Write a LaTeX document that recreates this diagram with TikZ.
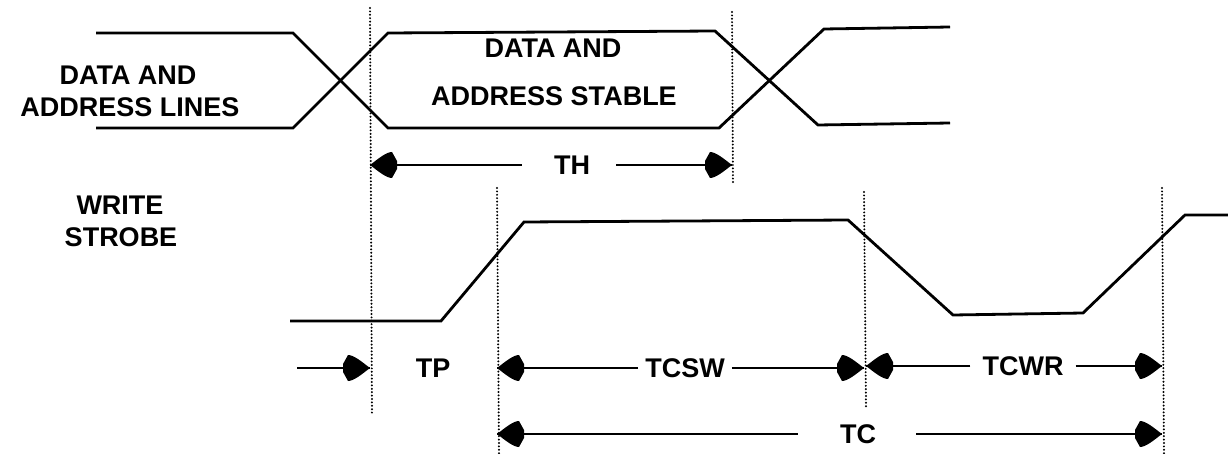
\documentclass[tikz,border=0pt]{standalone}
\usepackage{fontspec}
\setmainfont{Liberation Sans}
\tikzset{
  sig/.style={line width=2.8pt, line join=miter},
  guide/.style={line width=2.2pt, line cap=round, dash pattern=on 0pt off 3.4pt},
  dim/.style={line width=2.6pt},
  lbl/.style={font=\fontsize{27}{32}\selectfont\bfseries, inner sep=0pt, align=center},
  headR/.pic={\fill (0,0) .. controls (-8,-6) and (-16,-13) .. (-22,-13)
      -- (-27,-4) -- (-27,4) -- (-22,13) .. controls (-16,13) and (-8,6) .. (0,0) -- cycle;},
  headL/.pic={\fill (0,0) .. controls (8,-6) and (16,-13) .. (22,-13)
      -- (27,-4) -- (27,4) -- (22,13) .. controls (16,13) and (8,6) .. (0,0) -- cycle;},
}
\begin{document}
\begin{tikzpicture}[x=1pt,y=-1pt]
\useasboundingbox[fill=white] (0,0) rectangle (1228,454);

% guide (dotted) lines
\coordinate (g1t) at (370,8);   \coordinate (g1b) at (372,415);
\coordinate (g2t) at (732,12);  \coordinate (g2b) at (733,185);
\coordinate (g3t) at (497,188); \coordinate (g3b) at (499,454);
\coordinate (g4t) at (864,192); \coordinate (g4b) at (866,407);
\coordinate (g5t) at (1162,188);\coordinate (g5b) at (1164,454);
\draw[guide] (g1t) -- (g1b);
\draw[guide] (g2t) -- (g2b);
\draw[guide] (g3t) -- (g3b);
\draw[guide] (g4t) -- (g4b);
\draw[guide] (g5t) -- (g5b);

% data and address lines
\draw[sig] (96,33) -- (293,33) -- (388,128) -- (719,128) -- (824,29) -- (950,27);
\draw[sig] (96,128) -- (293,128) -- (388,33) -- (715,31) -- (818,125) -- (950,123);

% write strobe
\draw[sig] (290,321) -- (441,321) -- (524,222) -- (848,220) -- (953,315)
  -- (1083,313) -- (1185,215) -- (1228,215);

% labels
\node[lbl] (dal1) at (128,75) {DATA AND};
\node[lbl] (dal2) at (130,107) {ADDRESS LINES};
\node[lbl] (das1) at (553,48) {DATA AND};
\node[lbl] (das2) at (554,96) {ADDRESS STABLE};
\node[lbl] (ws1) at (120,205) {WRITE};
\node[lbl] (ws2) at (121,237) {STROBE};

\node[lbl] (th) at (572,165) {TH};
\node[lbl] (tp) at (433,368) {TP};
\node[lbl] (tcsw) at (685,368) {TCSW};
\node[lbl] (tcwr) at (1023,366) {TCWR};
\node[lbl] (tc) at (858,434) {TC};

% arrow tips
\coordinate (thL) at (th -| g1t);   \coordinate (thR) at (th -| g2t);
\coordinate (tpR) at (tp -| g1t);   \coordinate (tpstart) at (297,368);
\coordinate (cswL) at (tcsw -| g3t); \coordinate (cswR) at (tcsw -| g4t);
\coordinate (cwrL) at (tcwr -| g4b); \coordinate (cwrR) at (tcwr -| g5t);
\coordinate (tcL) at (tc -| g3t);   \coordinate (tcR) at (tc -| g5t);

% dimension arrows
\draw[dim] ([xshift=-32pt]th.west) -- (thL);  \pic at (thL) {headL};
\draw[dim] ([xshift=26pt]th.east) -- (thR);   \pic at (thR) {headR};
\draw[dim] (tpstart) -- (tpR);                \pic at (tpR) {headR};
\draw[dim] ([xshift=-7pt]tcsw.west) -- (cswL); \pic at (cswL) {headL};
\draw[dim] ([xshift=7pt]tcsw.east) -- (cswR);  \pic at (cswR) {headR};
\draw[dim] ([xshift=-12pt]tcwr.west) -- (cwrL); \pic at (cwrL) {headL};
\draw[dim] ([xshift=12pt]tcwr.east) -- (cwrR);  \pic at (cwrR) {headR};
\draw[dim] ([xshift=-42pt]tc.west) -- (tcL);  \pic at (tcL) {headL};
\draw[dim] ([xshift=40pt]tc.east) -- (tcR);   \pic at (tcR) {headR};
\end{tikzpicture}
\end{document}
